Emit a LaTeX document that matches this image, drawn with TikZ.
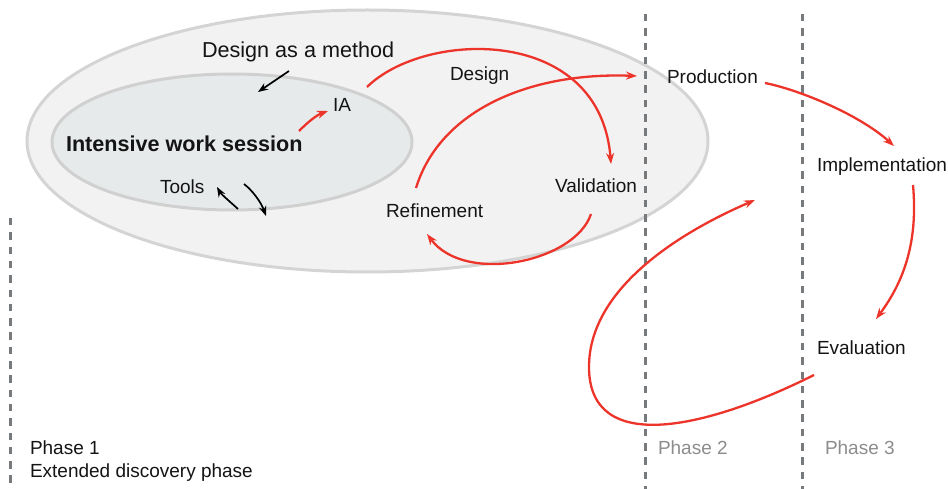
\documentclass[tikz,border=0pt]{standalone}
\usepackage{fontspec}
\setmainfont{Liberation Sans}
\usetikzlibrary{arrows.meta}
\definecolor{redarr}{RGB}{236,52,42}
\definecolor{outerfill}{RGB}{242,242,242}
\definecolor{outerline}{RGB}{212,212,212}
\definecolor{innerfill}{RGB}{231,234,235}
\definecolor{innerline}{RGB}{208,208,208}
\definecolor{dashgray}{RGB}{118,122,124}
\definecolor{phasegray}{RGB}{140,140,140}
\definecolor{txt}{RGB}{20,20,20}
\tikzset{
  lbl/.style={inner sep=0pt, outer sep=0pt, anchor=base west, text=txt, font=\fontsize{19}{22}\selectfont},
  biglbl/.style={lbl, font=\fontsize{21.6}{25}\selectfont},
  boldlbl/.style={lbl, font=\fontsize{21.6}{25}\selectfont\bfseries},
  phlbl/.style={lbl, text=phasegray},
  redarrow/.style={draw=redarr, line width=2.3pt, -{Stealth[length=11pt,width=8pt]}},
  blkarrow/.style={draw=black, line width=1.7pt, -{Stealth[length=10pt,width=7.5pt]}},
  phasedash/.style={draw=dashgray, line width=3pt, dash pattern=on 7.5pt off 6.8pt},
}
\begin{document}
\begin{tikzpicture}[x=1pt,y=-1pt]
\useasboundingbox (0,0) rectangle (948,489);
% ellipses
\draw[fill=outerfill, draw=outerline, line width=3pt] (367.5,141) ellipse [x radius=340.5, y radius=131];
\draw[fill=innerfill, draw=innerline, line width=3pt] (232,142) ellipse [x radius=180, y radius=68];
% phase lines
\coordinate (l1top) at (10,218); \coordinate (l1bot) at (10,489);
\coordinate (l2top) at (645,14); \coordinate (l2bot) at (645,489);
\coordinate (l3top) at (802,14); \coordinate (l3bot) at (802,489);
\draw[phasedash] (l1top) -- (l1bot);
\draw[phasedash] (l2top) -- (l2bot);
\draw[phasedash] (l3top) -- (l3bot);
% labels
\node[biglbl] (dam) at (202,58) {Design as a method};
\node[boldlbl] (iws) at (66,152) {Intensive work session};
\node[lbl] (ia) at (333,112) {IA};
\node[lbl] (tools) at (160,194) {Tools};
\node[lbl] (design) at (450,81) {Design};
\node[lbl] (val) at (555,193) {Validation};
\node[lbl] (ref) at (386,218) {Refinement};
\node[lbl] (prod) at (667,84) {Production};
\node[lbl] (impl) at (817,172) {Implementation};
\node[lbl] (eval) at (817,354) {Evaluation};
\node[lbl] (ph1) at (30,454) {Phase 1};
\node[lbl] (ph1b) at (30,477) {Extended discovery phase};
\node[phlbl] (ph2) at (658,454) {Phase 2};
\node[phlbl] (ph3) at (825,454) {Phase 3};
% connector end points
\coordinate (iwsout) at (299,131); \coordinate (iain) at (328,111);
\coordinate (iaout) at (367,87); \coordinate (valin) at (611,164);
\coordinate (refout) at (416,188); \coordinate (prodin) at (637,76);
\coordinate (valout) at (591,214); \coordinate (refin) at (427,234);
\coordinate (prodout) at (765,83); \coordinate (implin) at (894,146);
\coordinate (implout) at (913,185); \coordinate (evalin) at (876,319);
\coordinate (evalout) at (814,375); \coordinate (loopleft) at (589,367); \coordinate (loopend) at (755,200);
\coordinate (damout) at (289,71); \coordinate (damin) at (258,92);
\coordinate (toolsupA) at (238,209); \coordinate (toolsupB) at (217,187);
\coordinate (toolsdnA) at (244,184); \coordinate (toolsdnB) at (266,216);
% red arrows
\draw[redarrow] (iwsout) .. controls (309,121) and (317,115) .. (iain);
\draw[redarrow] (iaout) .. controls (425,30) and (600,25) .. (valin);
\draw[redarrow] (refout) .. controls (440,110) and (530,72) .. (prodin);
\draw[redarrow] (valout) .. controls (575,262) and (465,285) .. (refin);
\draw[redarrow] (prodout) .. controls (800,90) and (860,115) .. (implin);
\draw[redarrow] (implout) .. controls (918,240) and (905,280) .. (evalin);
\draw[redarrow] (evalout) .. controls (704,430) and (589,455) .. (loopleft)
   .. controls (589,287) and (683,231) .. (loopend);
% black arrows
\draw[blkarrow] (damout) -- (damin);
\draw[blkarrow] (toolsupA) .. controls (228,200) and (221,194) .. (toolsupB);
\draw[blkarrow] (toolsdnA) .. controls (252,190) and (261,202) .. (toolsdnB);
\end{tikzpicture}
\end{document}
